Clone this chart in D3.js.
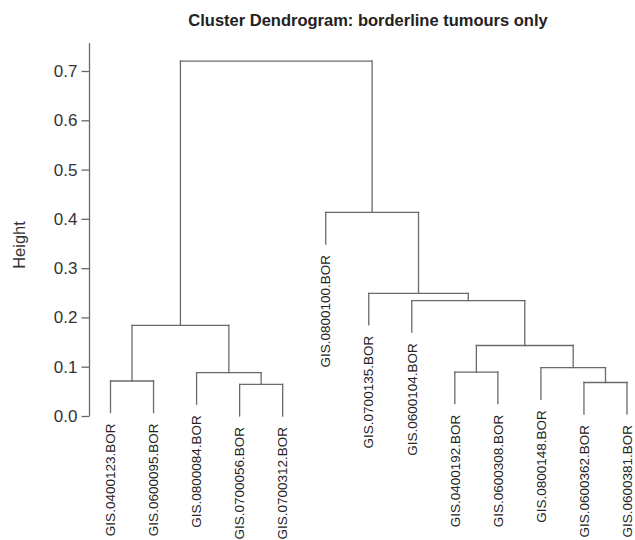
<!DOCTYPE html>
<html>
<head>
<meta charset="utf-8">
<title>Cluster Dendrogram</title>
<script src="https://cdn.jsdelivr.net/npm/d3@7"></script>
<style>
body { margin: 0; background: #fff; }
</style>
</head>
<body>
<div id="mainArea"></div>
<script>
// leaf labels in plot order (left to right)
var leaves = ["GIS.0400123.BOR", "GIS.0600095.BOR", "GIS.0800084.BOR", "GIS.0700056.BOR",
              "GIS.0700312.BOR", "GIS.0800100.BOR", "GIS.0700135.BOR", "GIS.0600104.BOR",
              "GIS.0400192.BOR", "GIS.0600308.BOR", "GIS.0800148.BOR", "GIS.0600362.BOR",
              "GIS.0600381.BOR"];

// merge table like R hclust: negative = leaf (1-based), positive = earlier merge step
var mergeLeft  = [-4, -12, -1, -3, -9, -11, 5, 3, -8, -7, -6, 8];
var mergeRight = [-5, -13, -2,  1, -10,  2, 6, 4,  7,  9, 10, 11];
var heights    = [0.064, 0.068, 0.071, 0.088, 0.089, 0.098, 0.143, 0.184, 0.234, 0.249, 0.413, 0.720];

var yTicks = [0, 0.1, 0.2, 0.3, 0.4, 0.5, 0.6, 0.7];
var hang = 0.064;

function mainInit()
{
    var width = 635,
        height = 540;

    var vis = d3.select("#mainArea")
            .append("svg")
            .attr("width", width)
            .attr("height", height)
            .style("font-family", "'Liberation Sans', Arial, sans-serif");

    var x = d3.scaleLinear().domain([0, leaves.length - 1]).range([110.5, 627]);
    var y = d3.scaleLinear().domain([0, 0.7]).range([416, 71]);

    // x position of each merge node (midpoint of its children)
    var nodeX = [];
    function childX(c) { return c < 0 ? x(-c - 1) : nodeX[c - 1]; }
    heights.forEach(function(h, i) {
        nodeX.push((childX(mergeLeft[i]) + childX(mergeRight[i])) / 2);
    });

    var segs = [];
    heights.forEach(function(h, i) {
        var kids = [mergeLeft[i], mergeRight[i]];
        var xs = kids.map(childX);
        // horizontal bar
        segs.push({x1: xs[0], y1: h, x2: xs[1], y2: h});
        kids.forEach(function(c, k) {
            var bottom = c < 0 ? h - hang : heights[c - 1];
            segs.push({x1: xs[k], y1: h, x2: xs[k], y2: bottom});
        });
    });

    vis.selectAll("line.seg")
       .data(segs)
       .enter()
       .append("line")
       .attr("class", "seg")
       .attr("x1", function(d) { return d.x1; })
       .attr("y1", function(d) { return y(d.y1); })
       .attr("x2", function(d) { return d.x2; })
       .attr("y2", function(d) { return y(d.y2); })
       .style("stroke", "#6a6a6a")
       .style("stroke-width", 1.3)
       .style("stroke-linecap", "square");

    // leaf labels, hanging under each leaf end
    var leafEnd = {};
    heights.forEach(function(h, i) {
        [mergeLeft[i], mergeRight[i]].forEach(function(c) {
            if (c < 0) leafEnd[-c - 1] = h - hang;
        });
    });

    vis.selectAll("text.leaf")
       .data(leaves)
       .enter()
       .append("text")
       .attr("class", "leaf")
       .attr("transform", function(d, i) {
           return "translate(" + x(i) + "," + (y(leafEnd[i]) + 11) + ") rotate(-90)";
       })
       .attr("text-anchor", "end")
       .attr("dy", "0.35em")
       .style("font-size", "13.5px")
       .style("fill", "#222")
       .text(function(d) { return d; });

    // y axis
    var axis = vis.append("g")
       .attr("transform", "translate(89.5,0)")
       .call(d3.axisLeft(y).tickValues(yTicks).tickFormat(d3.format(".1f")).tickSize(8).tickPadding(4));
    axis.select(".domain").remove();
    axis.selectAll(".tick line").style("stroke", "#6a6a6a").style("stroke-width", 1.3);
    axis.selectAll(".tick text").style("font-size", "17px").style("fill", "#333")
        .style("font-family", "'Liberation Sans', Arial, sans-serif");
    axis.append("line")
        .attr("x1", 0).attr("x2", 0)
        .attr("y1", y(0)).attr("y2", 43)
        .style("stroke", "#6a6a6a")
        .style("stroke-width", 1.3);

    vis.append("text")
       .attr("transform", "translate(19,245) rotate(-90)")
       .attr("text-anchor", "middle")
       .attr("dy", "0.35em")
       .style("font-size", "16.5px")
       .style("fill", "#333")
       .text("Height");

    vis.append("text")
       .attr("x", 368)
       .attr("y", 26)
       .attr("text-anchor", "middle")
       .style("font-size", "16.5px")
       .style("font-weight", "bold")
       .style("fill", "#222")
       .text("Cluster Dendrogram: borderline tumours only");
};

window.onload = mainInit;
</script>
</body>
</html>
